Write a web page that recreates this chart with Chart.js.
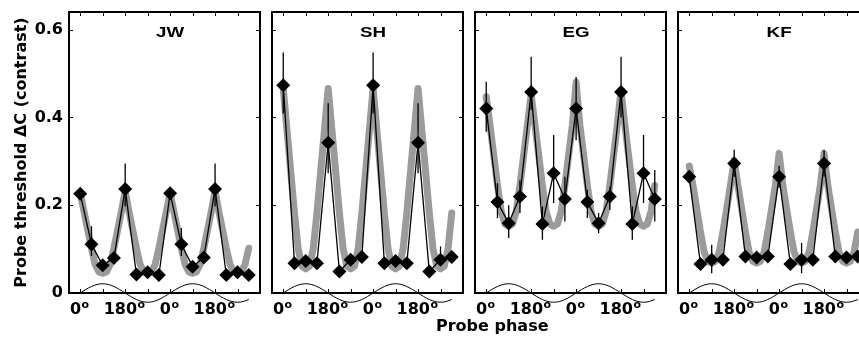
<!DOCTYPE html>
<html>
<head>
<meta charset="utf-8">
<script src="https://cdn.jsdelivr.net/npm/chart.js@4"></script>
<style>
  html, body { margin: 0; padding: 0; background: #fff; }
  #wrap { position: relative; width: 859px; height: 339px; overflow: hidden; background: #fff; }
  canvas { position: absolute; top: 0; }
  #xtitle { position: absolute; left: 436px; top: 318px; font: bold 16px "DejaVu Sans"; line-height: 16px; white-space: nowrap; color: #000; }
</style>
</head>
<body>
<div id="wrap">
  <canvas id="c0"></canvas>
  <canvas id="c1"></canvas>
  <canvas id="c2"></canvas>
  <canvas id="c3"></canvas>
  <div id="xtitle">Probe phase</div>
</div>
<script>
// data
const subjects = ['JW', 'SH', 'EG', 'KF'];
const probePhase = [0, 45, 90, 135, 180, 225, 270, 315, 360, 405, 450, 495, 540, 585, 630, 675];

const jwThresh = [0.226, 0.111, 0.063, 0.080, 0.237, 0.042, 0.047, 0.041, 0.227, 0.111, 0.060, 0.081, 0.237, 0.041, 0.047, 0.041];
const jwHi     = [0.236, 0.152, 0.072, 0.090, 0.295, 0.050, 0.055, 0.049, 0.237, 0.148, 0.068, 0.089, 0.295, 0.049, 0.055, 0.049];
const jwLo     = [0.216, 0.084, 0.056, 0.072, 0.197, 0.036, 0.040, 0.035, 0.217, 0.084, 0.054, 0.073, 0.197, 0.035, 0.040, 0.035];

const shThresh = [0.473, 0.068, 0.073, 0.068, 0.342, 0.049, 0.076, 0.082, 0.473, 0.068, 0.073, 0.068, 0.342, 0.049, 0.076, 0.082];
const shHi     = [0.548, 0.076, 0.082, 0.076, 0.432, 0.056, 0.090, 0.092, 0.548, 0.076, 0.082, 0.076, 0.432, 0.056, 0.106, 0.092];
const shLo     = [0.409, 0.060, 0.065, 0.060, 0.273, 0.042, 0.066, 0.073, 0.409, 0.060, 0.065, 0.060, 0.273, 0.042, 0.066, 0.073];

const egThresh = [0.420, 0.207, 0.159, 0.220, 0.458, 0.157, 0.273, 0.214, 0.420, 0.207, 0.159, 0.220, 0.458, 0.157, 0.273, 0.214];
const egHi     = [0.481, 0.250, 0.200, 0.257, 0.538, 0.197, 0.360, 0.265, 0.492, 0.235, 0.182, 0.242, 0.538, 0.197, 0.360, 0.280];
const egLo     = [0.367, 0.170, 0.125, 0.182, 0.417, 0.121, 0.205, 0.163, 0.348, 0.171, 0.136, 0.189, 0.400, 0.121, 0.205, 0.163];

const kfThresh = [0.265, 0.066, 0.076, 0.076, 0.295, 0.083, 0.081, 0.083, 0.265, 0.066, 0.076, 0.076, 0.295, 0.083, 0.081, 0.083];
const kfHi     = [0.275, 0.074, 0.110, 0.084, 0.326, 0.091, 0.089, 0.091, 0.290, 0.074, 0.114, 0.084, 0.326, 0.091, 0.089, 0.091];
const kfLo     = [0.255, 0.058, 0.045, 0.068, 0.265, 0.075, 0.073, 0.075, 0.240, 0.058, 0.045, 0.068, 0.265, 0.075, 0.073, 0.075];

// model fit (gray), sampled every 15 deg
const fitPhase = [0, 15, 30, 45, 60, 75, 90, 105, 120, 135, 150, 165, 180, 195, 210, 225, 240, 255, 270, 285, 300, 315, 330, 345,
                  360, 375, 390, 405, 420, 435, 450, 465, 480, 495, 510, 525, 540, 555, 570, 585, 600, 615, 630, 645, 660, 675];
const jwFit = [0.228, 0.186, 0.144, 0.102, 0.065, 0.048, 0.045, 0.048, 0.065, 0.102, 0.144, 0.186, 0.232,
               0.186, 0.144, 0.102, 0.065, 0.048, 0.045, 0.048, 0.065, 0.102, 0.144, 0.186, 0.228,
               0.186, 0.144, 0.102, 0.065, 0.048, 0.045, 0.048, 0.065, 0.102, 0.144, 0.186, 0.232,
               0.186, 0.144, 0.102, 0.065, 0.048, 0.045, 0.048, 0.065, 0.102];
const shFit = [0.466, 0.371, 0.277, 0.182, 0.100, 0.061, 0.055, 0.061, 0.100, 0.182, 0.277, 0.371, 0.466,
               0.371, 0.277, 0.182, 0.100, 0.061, 0.055, 0.061, 0.100, 0.182, 0.277, 0.371, 0.466,
               0.371, 0.277, 0.182, 0.100, 0.061, 0.055, 0.061, 0.100, 0.182, 0.277, 0.371, 0.466,
               0.371, 0.277, 0.182, 0.100, 0.061, 0.055, 0.061, 0.100, 0.182];
const egFit = [0.447, 0.383, 0.314, 0.245, 0.185, 0.157, 0.152, 0.157, 0.185, 0.245, 0.314, 0.383, 0.452,
               0.383, 0.314, 0.245, 0.185, 0.157, 0.152, 0.157, 0.185, 0.245, 0.314, 0.383, 0.480,
               0.383, 0.314, 0.245, 0.185, 0.157, 0.152, 0.157, 0.185, 0.245, 0.314, 0.383, 0.462,
               0.383, 0.314, 0.245, 0.185, 0.157, 0.152, 0.157, 0.185, 0.245];
const kfFit = [0.289, 0.245, 0.192, 0.139, 0.093, 0.072, 0.068, 0.072, 0.093, 0.139, 0.192, 0.245, 0.302,
               0.245, 0.192, 0.139, 0.093, 0.072, 0.068, 0.072, 0.093, 0.139, 0.192, 0.245, 0.318,
               0.245, 0.192, 0.139, 0.093, 0.072, 0.068, 0.072, 0.093, 0.139, 0.192, 0.245, 0.318,
               0.245, 0.192, 0.139, 0.093, 0.072, 0.068, 0.072, 0.093, 0.139];

// probe phase waveform drawn along the x axis
const stimPhase = [0, 22.5, 45, 67.5, 90, 112.5, 135, 157.5, 180, 202.5, 225, 247.5, 270, 292.5, 315, 337.5,
                   360, 382.5, 405, 427.5, 450, 472.5, 495, 517.5, 540, 562.5, 585, 607.5, 630, 652.5, 675];
const stimWave = [0, 0.008, 0.0148, 0.0194, 0.021, 0.0194, 0.0148, 0.008, 0, -0.008, -0.0148, -0.0194, -0.021, -0.0194, -0.0148, -0.008,
                  0, 0.008, 0.0148, 0.0194, 0.021, 0.0194, 0.0148, 0.008, 0, -0.008, -0.0148, -0.0194, -0.021, -0.0194, -0.0148];

const xTicks = [0, 90, 180, 270, 360, 450, 540, 630];
const xTickLabels = ['0', '', '180', '', '0', '', '180', ''];
const yTicks = [0, 0.2, 0.4, 0.6];

const panels = [
  [jwThresh, jwHi, jwLo, jwFit],
  [shThresh, shHi, shLo, shFit],
  [egThresh, egHi, egLo, egFit],
  [kfThresh, kfHi, kfLo, kfFit]
];
const panelLeft = [69, 272, 475, 678];
const panelWidth = 191;

// box with inward tick marks
const framePlugin = {
  id: 'frame',
  afterDraw(chart) {
    const {ctx, chartArea: a, scales: {x, y}} = chart;
    ctx.save();
    ctx.strokeStyle = '#000';
    ctx.lineWidth = 2;
    ctx.strokeRect(a.left, a.top, a.right - a.left, a.bottom - a.top);
    ctx.lineWidth = 1;
    ctx.beginPath();
    xTicks.forEach(v => {
      const px = Math.round(x.getPixelForValue(v)) + 0.5;
      ctx.moveTo(px, a.bottom); ctx.lineTo(px, a.bottom - 4);
      ctx.moveTo(px, a.top); ctx.lineTo(px, a.top + 4);
    });
    yTicks.forEach(v => {
      const py = Math.round(y.getPixelForValue(v)) + 0.5;
      ctx.moveTo(a.left, py); ctx.lineTo(a.left + 4, py);
      ctx.moveTo(a.right, py); ctx.lineTo(a.right - 4, py);
    });
    ctx.stroke();
    ctx.restore();
  }
};

// phase labels with a raised "o" for degrees
const xLabelPlugin = {
  id: 'xlabels',
  afterDraw(chart) {
    const {ctx, chartArea: a, scales: {x}} = chart;
    const base = a.bottom + 21;
    ctx.save();
    ctx.fillStyle = '#000';
    ctx.textBaseline = 'alphabetic';
    ctx.textAlign = 'left';
    xTicks.forEach((v, k) => {
      const txt = xTickLabels[k];
      if (!txt) return;
      ctx.font = 'bold 16px "DejaVu Sans"';
      const w1 = ctx.measureText(txt).width;
      ctx.font = 'bold 11px "DejaVu Sans"';
      const w2 = ctx.measureText('o').width;
      const left = x.getPixelForValue(v) - (w1 + w2) / 2 - 1;
      ctx.font = 'bold 16px "DejaVu Sans"';
      ctx.fillText(txt, left, base);
      ctx.font = 'bold 11px "DejaVu Sans"';
      ctx.fillText('o', left + w1 + 0.5, base - 5.6);
    });
    ctx.restore();
  }
};

// vertical error bars
const errPlugin = {
  id: 'errbars',
  afterDatasetsDraw(chart, args, opts) {
    const {ctx, scales: {x, y}} = chart;
    ctx.save();
    ctx.strokeStyle = '#000';
    ctx.lineWidth = 1.3;
    ctx.beginPath();
    probePhase.forEach((p, k) => {
      const px = x.getPixelForValue(p);
      ctx.moveTo(px, y.getPixelForValue(opts.hi[k]));
      ctx.lineTo(px, y.getPixelForValue(opts.lo[k]));
    });
    ctx.stroke();
    ctx.restore();
  }
};

// subject initials inside the box
const titlePlugin = {
  id: 'panelTitle',
  afterDatasetsDraw(chart, args, opts) {
    const {ctx, scales: {x, y}} = chart;
    ctx.save();
    ctx.fillStyle = '#000';
    ctx.font = 'bold 15px "Liberation Sans"';
    ctx.textAlign = 'center';
    ctx.textBaseline = 'alphabetic';
    ctx.translate(x.getPixelForValue(360), y.getPixelForValue(0.584));
    ctx.scale(1.25, 1);
    ctx.fillText(opts.text, 0, 0);
    ctx.restore();
  }
};

const tickFont = {family: 'DejaVu Sans', weight: 'bold', size: 16};

function makePanel(i) {
  const [thresh, hi, lo, fit] = panels[i];
  const first = i === 0;
  const pad = first ? 69 : 14;
  const canvas = document.getElementById('c' + i);
  canvas.width = pad + panelWidth + 14;
  canvas.height = 339;
  canvas.style.left = (panelLeft[i] - pad) + 'px';

  return new Chart(canvas, {
    type: 'line',
    data: {
      datasets: [
        {
          data: probePhase.map((p, k) => ({x: p, y: thresh[k]})),
          borderColor: '#000',
          backgroundColor: '#000',
          borderWidth: 1.3,
          pointStyle: 'rectRot',
          pointRadius: 7,
          pointBorderWidth: 0,
          pointBackgroundColor: '#000',
          tension: 0,
          order: 0
        },
        {
          data: stimPhase.map((p, k) => ({x: p, y: stimWave[k]})),
          borderColor: '#000',
          borderWidth: 1,
          pointRadius: 0,
          tension: 0.4,
          clip: false,
          order: 1
        },
        {
          data: fitPhase.map((p, k) => ({x: p, y: fit[k]})),
          borderColor: '#9b9b9b',
          borderWidth: 7,
          pointRadius: 0,
          tension: 0,
          borderJoinStyle: 'round',
          borderCapStyle: 'round',
          order: 2
        }
      ]
    },
    options: {
      responsive: false,
      animation: false,
      devicePixelRatio: 1,
      layout: {padding: {left: first ? 0 : 14, right: 14, top: 12, bottom: 0}},
      plugins: {
        legend: {display: false},
        tooltip: {enabled: false},
        errbars: {hi: hi, lo: lo},
        panelTitle: {text: subjects[i]}
      },
      scales: {
        x: {
          type: 'linear',
          min: -45,
          max: 720,
          afterFit: s => { s.height = 46; s.paddingLeft = 0; s.paddingRight = 0; },
          afterBuildTicks: s => { s.ticks = xTicks.map(v => ({value: v})); },
          grid: {display: false, drawTicks: false},
          border: {display: false},
          ticks: {display: false}
        },
        y: {
          type: 'linear',
          min: 0,
          max: 0.64,
          afterFit: s => { s.width = first ? 69 : 0; s.paddingTop = 0; s.paddingBottom = 0; },
          afterBuildTicks: s => { s.ticks = yTicks.map(v => ({value: v})); },
          grid: {display: false, drawTicks: false},
          border: {display: false},
          ticks: {
            display: first,
            padding: 6,
            color: '#000',
            font: tickFont,
            callback: v => v === 0 ? '0' : v.toFixed(1)
          },
          title: {
            display: first,
            text: 'Probe threshold ΔC (contrast)',
            color: '#000',
            font: tickFont,
            padding: {top: 12, bottom: 0}
          }
        }
      }
    },
    plugins: [framePlugin, xLabelPlugin, errPlugin, titlePlugin]
  });
}

document.addEventListener('DOMContentLoaded', function() {
  for (let i = 0; i < 4; i++) makePanel(i);
});
</script>
</body>
</html>
